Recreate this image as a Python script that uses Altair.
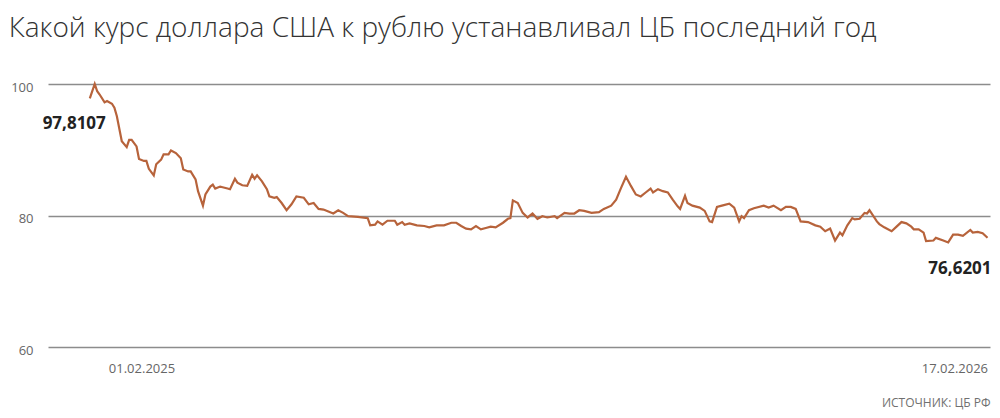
import altair as alt
import pandas as pd

title_text = "Какой курс доллара США к рублю устанавливал ЦБ последний год"
source_text = "ИСТОЧНИК: ЦБ РФ"

# day offsets (calendar days from start of the year-long window) and CBR USD/RUB rates
days = [0, 2, 3, 4, 6, 7, 9, 10, 11, 13, 15, 16, 17, 19, 20, 22, 23, 24, 26, 27,
        29, 30, 32, 33, 35, 37, 38, 40, 41, 43, 44, 46, 47, 49, 50, 51, 53, 54, 56, 57,
        59, 60, 62, 64, 66, 67, 68, 70, 72, 73, 75, 76, 78, 80, 82, 84, 87, 89, 91, 93,
        95, 97, 99, 101, 103, 105, 109, 113, 114, 116, 117, 119, 121, 124, 125, 127, 128, 130, 133, 136,
        138, 141, 144, 147, 149, 151, 153, 155, 157, 159, 161, 163, 165, 168, 170, 171, 172, 174, 176, 178,
        180, 182, 184, 186, 189, 190, 193, 195, 197, 199, 201, 204, 207, 209, 212, 214, 216, 218, 220, 222,
        224, 226, 228, 229, 231, 233, 235, 237, 239, 240, 242, 243, 245, 248, 250, 252, 253, 255, 257, 260,
        262, 264, 265, 266, 268, 270, 274, 276, 278, 281, 283, 285, 287, 289, 292, 295, 297, 299, 301, 303,
        305, 306, 308, 310, 311, 313, 315, 316, 317, 320, 321, 323, 326, 328, 330, 332, 334, 335, 337, 339,
        340, 343, 344, 347, 349, 351, 353, 355, 358, 359, 361, 363, 365]
rates = [97.8107, 100.0, 98.9, 98.4, 97.2, 97.4, 97.0, 96.4, 95.1, 91.3, 90.4, 91.5, 91.5, 90.5, 88.6, 88.3, 88.3, 87.1, 86.1, 87.8,
         88.5, 89.3, 89.3, 89.9, 89.5, 88.7, 87.0, 86.7, 86.7, 85.5, 83.7, 81.5, 83.2, 84.4, 84.7, 84.1, 84.4, 84.3, 84.1, 84.0,
         85.6, 85.0, 84.6, 84.5, 86.2, 85.6, 86.1, 85.2, 84.0, 82.9, 82.7, 82.8, 81.9, 80.8, 81.7, 82.9, 82.7, 81.7, 81.9, 81.0,
         80.9, 80.6, 80.3, 80.8, 80.4, 79.9, 79.8, 79.6, 78.5, 78.6, 79.1, 78.6, 79.2, 79.2, 78.6, 79.0, 78.6, 78.8, 78.5, 78.4,
         78.2, 78.5, 78.5, 78.9, 78.9, 78.4, 78.0, 77.9, 78.4, 77.9, 78.1, 78.3, 78.2, 78.9, 79.5, 79.6, 82.3, 81.9, 80.4, 79.7,
         80.3, 79.5, 79.9, 79.7, 79.9, 79.6, 80.4, 80.3, 80.3, 80.8, 80.7, 80.4, 80.5, 81.0, 81.5, 82.4, 84.2, 85.9, 84.5, 83.2,
         82.9, 83.5, 84.1, 83.5, 84.0, 83.7, 83.5, 82.4, 81.4, 81.0, 83.0, 81.9, 81.5, 81.2, 80.7, 79.1, 79.0, 81.3, 81.5, 81.8,
         81.2, 79.1, 79.9, 79.6, 80.8, 81.1, 81.5, 81.2, 81.5, 80.8, 81.3, 81.3, 81.0, 79.1, 79.0, 78.5, 78.3, 77.6, 78.0, 76.2,
         77.4, 77.0, 78.5, 79.6, 79.4, 79.5, 80.4, 80.3, 80.8, 79.1, 78.7, 78.2, 77.6, 78.3, 79.0, 78.8, 78.3, 77.9, 77.9, 77.4,
         76.1, 76.2, 76.6, 76.2, 75.9, 77.1, 77.1, 76.9, 77.8, 77.4, 77.5, 77.3, 76.6201]

y_ticks = [60, 80, 100]
x_tick_days = [21, 365]
x_tick_labels = ["01.02.2025", "17.02.2026"]

df = pd.DataFrame({"day": days, "rate": rates})
df["label"] = df["rate"].map(lambda v: f"{v:.4f}".replace(".", ","))

label_expr = " : ".join(
    [f"datum.value == {d} ? '{t}'" for d, t in zip(x_tick_days[:-1], x_tick_labels[:-1])]
    + [f"'{x_tick_labels[-1]}'"]
)

FONT = "Open Sans"
LINE_COLOR = "#b7633b"

x_enc = alt.X(
    "day:Q",
    scale=alt.Scale(domain=[-17, 366], nice=False, zero=False),
    axis=alt.Axis(
        values=x_tick_days,
        labelExpr=label_expr,
        grid=False,
        domain=False,
        ticks=False,
        labelFlush=6,
        labelPadding=15,
        labelFont=FONT,
        labelFontSize=13,
        labelColor="#666666",
        title=source_text,
        titleFont=FONT,
        titleFontSize=12,
        titleFontWeight="normal",
        titleColor="#707070",
        titleAnchor="end",
        titleAlign="right",
        titlePadding=22,
    ),
)
y_enc = alt.Y(
    "rate:Q",
    scale=alt.Scale(domain=[60, 100], nice=False, zero=False),
    axis=alt.Axis(
        values=y_ticks,
        grid=True,
        gridColor="#8c8c8c",
        gridWidth=1.4,
        domain=False,
        ticks=False,
        labelPadding=15,
        labelOffset=3,
        labelFont=FONT,
        labelFontSize=13,
        labelColor="#666666",
        title=None,
    ),
)

base = alt.Chart(df)

line = base.mark_line(color=LINE_COLOR, strokeWidth=2.2, interpolate="linear").encode(
    x=x_enc, y=y_enc
)

first_lbl = base.transform_filter(alt.datum.day == days[0]).mark_text(
    align="right", baseline="middle", dx=16, dy=26,
    font=FONT, fontSize=17, fontWeight="bold", color="#222222",
).encode(x="day:Q", y="rate:Q", text="label:N")

last_lbl = base.transform_filter(alt.datum.day == days[-1]).mark_text(
    align="right", baseline="middle", dx=4, dy=31,
    font=FONT, fontSize=17, fontWeight="bold", color="#222222",
).encode(x="day:Q", y="rate:Q", text="label:N")

chart = (
    alt.layer(line, first_lbl, last_lbl)
    .properties(
        width=942,
        height=263,
        title=alt.TitleParams(
            title_text,
            anchor="start",
            frame="bounds",
            dx=-2,
            offset=37,
            font=FONT,
            fontSize=28,
            fontWeight=300,
            color="#333333",
        ),
        autosize=alt.AutoSizeParams(type="none"),
        padding={"left": 40, "top": 76, "right": 2, "bottom": 63},
        background="white",
    )
    .configure_view(stroke=None)
)

chart.save("out.html", embed_options={"renderer": "svg", "actions": False})
